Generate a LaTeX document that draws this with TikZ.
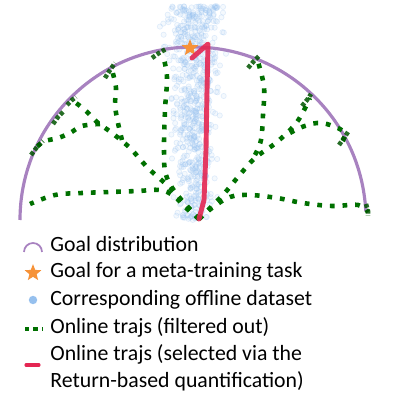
\documentclass[tikz,border=0pt]{standalone}
\usepackage{fontspec}
\setmainfont{Carlito}
\usetikzlibrary{shapes.geometric}
\usepackage{xcolor}

\definecolor{goalpurple}{RGB}{168,130,192}
\definecolor{trajgreen}{RGB}{0,112,0}
\definecolor{selred}{RGB}{228,38,82}
\definecolor{staror}{RGB}{246,146,56}
\definecolor{dotblue}{RGB}{150,192,238}

\begin{document}
\begin{tikzpicture}[
    x=0.02cm, y=-0.02cm,
    arcline/.style={draw=goalpurple, line width=1.8pt},
    traj/.style={draw=trajgreen, line width=2.6pt, dash pattern=on 2.7pt off 4.5pt},
    scrib/.style={draw=trajgreen!75!black, draw opacity=0.85, line width=2.6pt, dash pattern=on 2.2pt off 1.2pt},
    sel/.style={draw=selred, line width=2.8pt, line join=round, line cap=round},
    goalstar/.style={star, star points=5, star point ratio=2.3, fill=staror, inner sep=0pt, minimum size=#1},
    pt/.style={fill=dotblue, fill opacity=0.1, draw=dotblue, draw opacity=0.25, line width=0.4pt},
    lbl/.style={anchor=base west, font=\fontsize{12.4}{14}\selectfont, inner sep=0pt}
]
\useasboundingbox (0,0) rectangle (416,408);

% offline dataset
\pgfmathsetseed{42}
\foreach \i in {1,...,700}{
  \pgfmathsetmacro\yy{6+214*rnd^1.2}
  \pgfmathsetmacro\xx{194+14*(rand+rand+rand)*(1-0.45*\yy/222)}
  \path[pt] (\xx,\yy) circle[radius=1.5pt];
}

% goal distribution
\coordinate (ctr) at (193,220);
\draw[arcline] (20,220) arc[start angle=180, end angle=357, radius=173];

\coordinate (o) at (199,219);

% online trajs (filtered out)
\draw[traj] plot[smooth, tension=0.6] coordinates {(o) (185,207) (174,196) (160,190) (138,191) (110,192) (82,193) (55,195) (30,204)};
\draw[traj] plot[smooth, tension=0.6] coordinates {(o) (170,188) (148,168) (130,148) (112,133) (97,122) (85,110) (72,100)};
\draw[traj] plot[smooth, tension=0.6] coordinates {(100,124) (82,126) (70,133) (58,138) (43,142) (32,152)};
\draw[traj] plot[smooth, tension=0.6] coordinates {(122,140) (118,123) (115,105) (116,88) (112,70)};
\draw[traj] plot[smooth, tension=0.6] coordinates {(o) (178,196) (166,175) (164,150) (165,110) (167,77) (163,56)};
\draw[traj] plot[smooth, tension=0.6] coordinates {(o) (212,208) (230,197) (250,195) (277,198) (303,203) (332,206) (358,205) (368,212)};
\draw[traj] plot[smooth, tension=0.6] coordinates {(o) (222,196) (238,177) (255,158) (277,142) (297,122) (310,98)};
\draw[traj] plot[smooth, tension=0.6] coordinates {(255,155) (261,140) (263,115) (264,87) (258,62)};
\draw[traj] plot[smooth, tension=0.6] coordinates {(290,133) (302,127) (317,123) (330,125) (345,133) (340,145)};

% ends on the arc
\draw[scrib] (31,155) -- (37,147) -- (43,141);
\draw[scrib] (53,124) -- (58,117) -- (63,112);
\draw[scrib] (67,105) -- (72,100) -- (76,97);
\draw[scrib] (105,78) -- (110,70) -- (115,63);
\draw[scrib] (152,58) -- (159,53) -- (166,49);
\draw[scrib] (248,68) -- (254,61) -- (259,56);
\draw[scrib] (302,106) -- (307,100) -- (311,94);
\draw[scrib] (339,145) -- (344,138) -- (348,132);
\draw[scrib] (366,204) -- (368,211) -- (368,216);

% goal and selected traj
\node[goalstar=10pt] (goal) at (190,48) {};
\draw[sel, opacity=0.9] (o) -- (204,200) -- (206,150) -- (207,90) -- (208,44) -- (192,58);

% legend
\node[lbl] (l1) at (50,252) {Goal distribution};
\node[lbl] (l2) at (50,278) {Goal for a meta-training task};
\node[lbl] (l3) at (50,306) {Corresponding offline dataset};
\node[lbl] (l4) at (50,334) {Online trajs (filtered out)};
\node[lbl] (l5) at (50,361) {Online trajs (selected via the};
\node[lbl] (l6) at (50,388) {Return-based quantification)};

\draw[draw=goalpurple, line width=1pt] (24,252) arc[start angle=180, end angle=360, radius=9];
\node[goalstar=10pt] (s2) at (33,273) {};
\fill[dotblue] (33,300) circle[radius=2.4pt];
\draw[traj, dash pattern=on 2.4pt off 2.4pt] (25,329) -- (42,329);
\draw[sel, line width=1.8pt] (26,365) -- (39,365);
\end{tikzpicture}
\end{document}
